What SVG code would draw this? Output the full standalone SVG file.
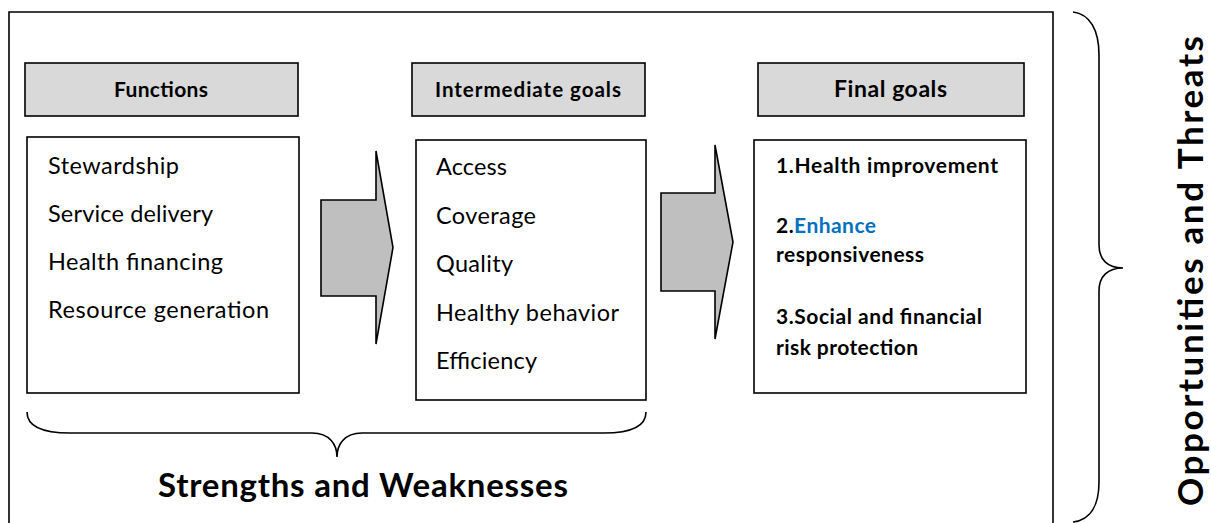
<svg xmlns="http://www.w3.org/2000/svg" width="1211" height="523" viewBox="0 0 1211 523">
  <style>
    .frame { fill: none; stroke: #000; stroke-width: 1.6; }
    .head { fill: #d9d9d9; stroke: #000; stroke-width: 1.6; }
    .box { fill: #fff; stroke: #000; stroke-width: 1.6; }
    .arrow { fill: #bfbfbf; stroke: #000; stroke-width: 1.6; stroke-linejoin: miter; }
    .brace { fill: none; stroke: #000; stroke-width: 1.6; }
    text { font-family: Lato, "Liberation Sans", sans-serif; fill: #000; }
    .h { font-weight: bold; }
    .item { font-size: 23.5px; }
    .goal { font-size: 21px; font-weight: bold; }
    .big { font-weight: bold; }
    .blue { fill: #0070c0; }
  </style>

  <!-- outer frame, bottom edge runs off the page -->
  <path class="frame" d="M9,540 L9,12 L1053,12 L1053,540"/>

  <g id="functions">
    <rect class="head" x="25" y="63" width="273" height="53"/>
    <text class="h" x="114" y="97" font-size="21" textLength="94">Functions</text>
    <rect class="box" x="27" y="137" width="272" height="256"/>
    <text class="item" x="48" y="174" textLength="131">Stewardship</text>
    <text class="item" x="48" y="222" textLength="165">Service delivery</text>
    <text class="item" x="48" y="270" textLength="175">Health financing</text>
    <text class="item" x="48" y="318" textLength="221">Resource generation</text>
  </g>

  <g id="intermediate-goals">
    <rect class="head" x="412" y="63" width="233" height="53"/>
    <text class="h" x="435" y="97" font-size="20.6" textLength="186">Intermediate goals</text>
    <rect class="box" x="416" y="140" width="230" height="260"/>
    <text class="item" x="436" y="175" textLength="71">Access</text>
    <text class="item" x="436" y="223.5" textLength="100">Coverage</text>
    <text class="item" x="436" y="272" textLength="77">Quality</text>
    <text class="item" x="436" y="320.5" textLength="183">Healthy behavior</text>
    <text class="item" x="436" y="369" textLength="101">Efficiency</text>
  </g>

  <g id="final-goals">
    <rect class="head" x="758" y="63" width="266" height="53"/>
    <text class="h" x="834" y="97" font-size="23" textLength="113">Final goals</text>
    <rect class="box" x="754" y="140" width="272" height="253"/>
    <text class="goal" x="776" y="173" textLength="222">1.Health improvement</text>
    <text class="goal" x="776" y="233" textLength="100">2.<tspan class="blue">Enhance</tspan></text>
    <text class="goal" x="776" y="262" textLength="148">responsiveness</text>
    <text class="goal" x="776" y="324" textLength="206">3.Social and financial</text>
    <text class="goal" x="776" y="355" textLength="142">risk protection</text>
  </g>

  <g id="connectors">
    <polygon class="arrow" points="321,200 376,200 376,151 393,247.5 376,344 376,296 321,296"/>
    <polygon class="arrow" points="661,193 715,193 715,145 733,242 715,339 715,291 661,291"/>
  </g>

  <g id="strengths-weaknesses">
    <path class="brace" d="M27,412 C27,426 42,433 70,433 L312,433 C330,433 337,445 337,457 C337,445 344,433 362,433 L604,433 C632,433 646,426 646,412"/>
    <text class="big" x="158" y="497" font-size="33" textLength="410">Strengths and Weaknesses</text>
  </g>

  <g id="opportunities-threats">
    <path class="brace" d="M1073,12 C1090,14 1099,30 1099,55 L1099,245 C1099,260 1108,268 1123,268 C1108,268 1099,276 1099,291 L1099,482 C1099,506 1090,520 1073,522"/>
    <text class="big" transform="translate(1203,506) rotate(-90)" font-size="35" textLength="470">Opportunities and Threats</text>
  </g>
</svg>
